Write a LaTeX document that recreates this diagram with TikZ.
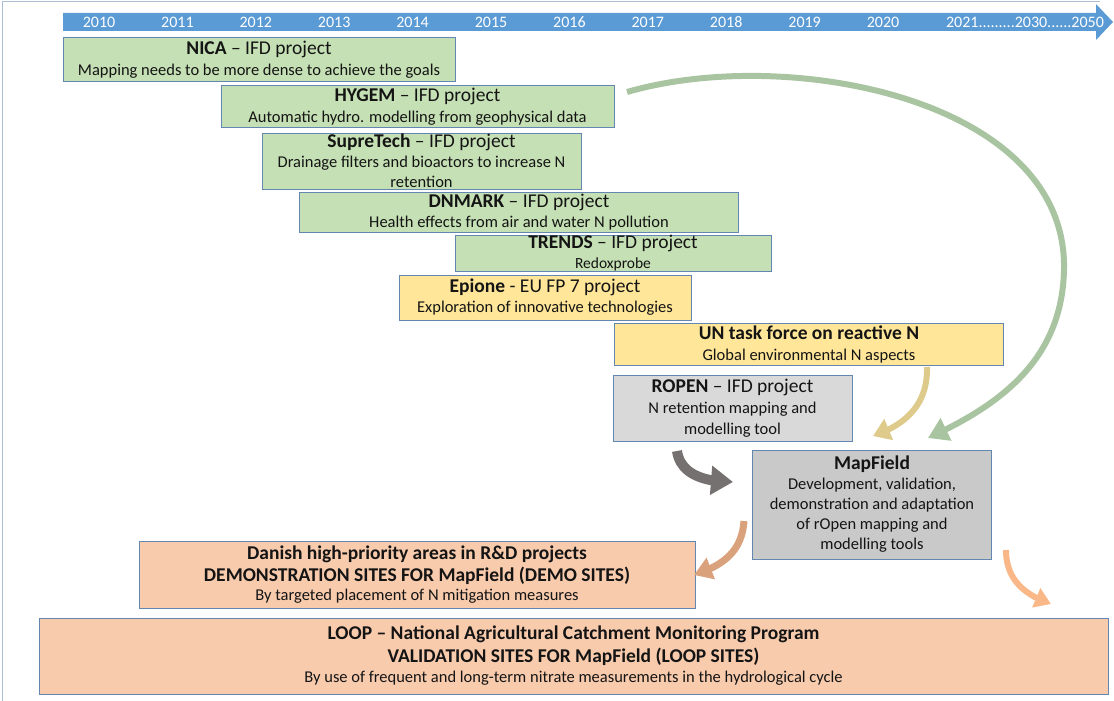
\documentclass[tikz,border=0pt]{standalone}
\usepackage{fontspec}
\setmainfont{Carlito}
\usetikzlibrary{arrows.meta,bending}
\definecolor{tl}{RGB}{91,155,213}
\definecolor{bd}{RGB}{100,135,178}
\definecolor{gfill}{RGB}{197,224,180}
\definecolor{yfill}{RGB}{255,230,153}
\definecolor{lgray}{RGB}{217,217,217}
\definecolor{mgray}{RGB}{201,201,201}
\definecolor{peach}{RGB}{248,203,173}
\definecolor{garc}{RGB}{169,196,160}
\definecolor{tanc}{RGB}{222,202,138}
\definecolor{dgray}{RGB}{118,113,113}
\definecolor{brn}{RGB}{218,162,124}
\definecolor{org}{RGB}{250,184,137}
\definecolor{framec}{RGB}{170,190,212}
\definecolor{txt}{RGB}{20,20,20}
\newcommand{\tln}[2]{{\fontsize{19.5}{21}\selectfont\textbf{#1}#2}}
\newcommand{\bln}[1]{{\fontsize{19.5}{21}\selectfont\textbf{#1}}}
\begin{document}
\begin{tikzpicture}[x=1pt,y=-1pt,
  box/.style={draw=bd, line width=1pt, inner sep=0pt, align=center, text=txt,
    font=\fontsize{16.5}{21}\selectfont},
  yr/.style={text=white, font=\fontsize{16}{18}\selectfont, inner sep=0pt},
  conn/.style={line cap=butt}]
\useasboundingbox (0,0) rectangle (1114,701);
% frame
\draw[framec, line width=1pt] (2,701) -- (2,2) -- (1100,2);
% timeline
\fill[tl] (63,13) -- (1096,13) -- (1096,4) -- (1113,22) -- (1096,40) -- (1096,31) -- (63,31) -- cycle;
\node[yr] (y10) at (99,22) {2010};
\node[yr] (y11) at (177.4,22) {2011};
\node[yr] (y12) at (255.8,22) {2012};
\node[yr] (y13) at (334.2,22) {2013};
\node[yr] (y14) at (412.6,22) {2014};
\node[yr] (y15) at (491,22) {2015};
\node[yr] (y16) at (569.4,22) {2016};
\node[yr] (y17) at (647.8,22) {2017};
\node[yr] (y18) at (726.2,22) {2018};
\node[yr] (y19) at (804.6,22) {2019};
\node[yr] (y20) at (883,22) {2020};
\node[yr] (y21) at (1025,22) {2021.........2030......2050};
% boxes
\node[box, fill=gfill, minimum width=392, minimum height=44] (nica) at (259,60)
  {\tln{NICA}{ -- IFD project}\\Mapping needs to be more dense to achieve the goals};
\node[box, fill=gfill, minimum width=393, minimum height=41] (hygem) at (417.5,106.5)
  {\tln{HYGEM}{ -- IFD project}\\Automatic hydro. modelling from geophysical data};
\node[box, fill=gfill, minimum width=319, minimum height=56] (supre) at (421.5,161)
  {\tln{SupreTech}{ -- IFD project}\\[-1pt]Drainage filters and bioactors to increase N\\[-1pt]retention};
\node[box, fill=gfill, minimum width=439, minimum height=40] (dnmark) at (519,212.5)
  {\tln{DNMARK}{ -- IFD project}\\[-1pt]Health effects from air and water N pollution};
\node[box, fill=gfill, minimum width=316, minimum height=36] (trends) at (613,253)
  {\tln{TRENDS}{ -- IFD project}\\[-1pt]{\fontsize{15.5}{21}\selectfont Redoxprobe}};
\node[box, fill=yfill, minimum width=292, minimum height=45] (epione) at (545,297.5)
  {\tln{Epione}{ - EU FP 7 project}\\[-1pt]Exploration of innovative technologies};
\node[box, fill=yfill, minimum width=389, minimum height=42] (un) at (809,344.5)
  {\bln{UN task force on reactive N}\\Global environmental N aspects};
\node[box, fill=lgray, minimum width=239, minimum height=66] (ropen) at (732.5,408.5)
  {\tln{ROPEN}{ -- IFD project}\\N retention mapping and\\modelling tool};
\node[box, fill=mgray, minimum width=239, minimum height=109] (mapfield) at (872,504.5)
  {\bln{MapField}\\[-1pt]Development, validation,\\[-1pt]demonstration and adaptation\\[-1pt]of rOpen mapping and\\[-1pt]modelling tools};
\node[box, fill=peach, minimum width=556, minimum height=67] (danish) at (417,574.5)
  {\bln{Danish high-priority areas in R\&D projects}\\[1pt]\bln{DEMONSTRATION SITES FOR MapField (DEMO SITES)}\\[-2pt]By targeted placement of N mitigation measures};
\node[box, fill=peach, minimum width=1069, minimum height=76] (loop) at (573.5,656)
  {\bln{LOOP -- National Agricultural Catchment Monitoring Program}\\[2pt]\bln{VALIDATION SITES FOR MapField (LOOP SITES)}\\[-1pt]By use of frequent and long-term nitrate measurements in the hydrological cycle};
% connector end points
\coordinate (g0) at (627,92);
\coordinate (g1) at (928,438);
\coordinate (t0) at (927,367);
\coordinate (t1) at (873,436);
\coordinate (d0) at (677,451);
\coordinate (d1) at (733,482);
\coordinate (b0) at (744,521);
\coordinate (b1) at (694,575);
\coordinate (o0) at (1006,550);
\coordinate (o1) at (1051,604);
% connectors
\draw[conn, garc, line width=6pt, -{Triangle[length=20pt,width=24pt]}]
  (g0) .. controls (790,45) and (1068,100) .. (1064,270)
       .. controls (1062,360) and (1000,405) .. (g1);
\draw[conn, tanc, line width=6pt, -{Triangle[length=17pt,width=22pt]}]
  (t0) .. controls (928,405) and (905,425) .. (t1);
\draw[conn, dgray, line width=10pt, -{Triangle[length=22pt,width=28pt]}]
  (d0) .. controls (680,472) and (700,482) .. (d1);
\draw[conn, brn, line width=7pt, -{Triangle[length=18pt,width=22pt]}]
  (b0) .. controls (742,550) and (725,565) .. (b1);
\draw[conn, org, line width=6pt, -{Triangle[length=16pt,width=20pt]}]
  (o0) .. controls (1006,580) and (1025,595) .. (o1);
\end{tikzpicture}
\end{document}
